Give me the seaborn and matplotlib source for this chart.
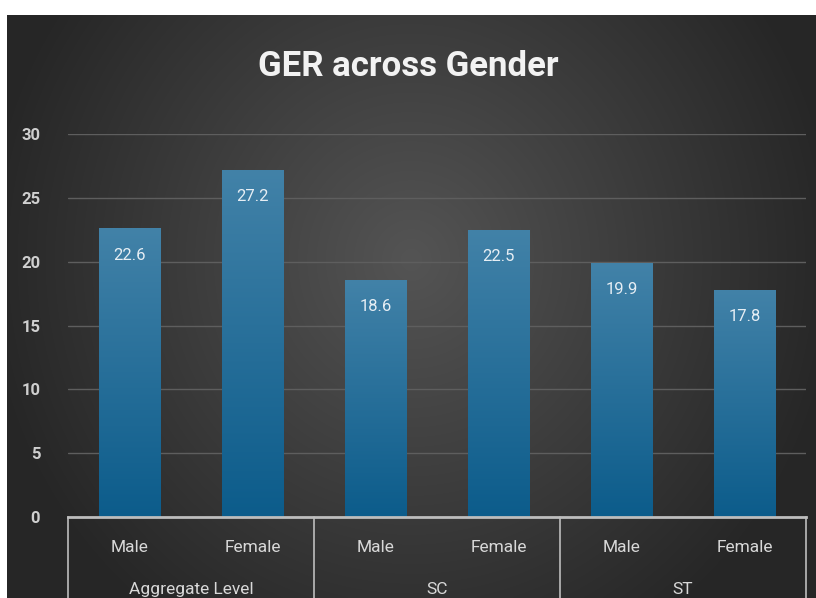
import numpy as np
import pandas as pd
import matplotlib
matplotlib.use("Agg")
import matplotlib.pyplot as plt
from matplotlib.lines import Line2D
import seaborn as sns

# Gross Enrolment Ratio by social group and gender
groups = ["Aggregate Level", "SC", "ST"]
genders = ["Male", "Female"]
ger_values = [22.6, 27.2, 18.6, 22.5, 19.9, 17.8]
y_ticks = [0, 5, 10, 15, 20, 25, 30]

rows = []
i = 0
for g in groups:
    for s in genders:
        rows.append({"key": f"{g}|{s}", "group": g, "gender": s, "ger": ger_values[i]})
        i += 1
df = pd.DataFrame(rows)

sns.set_theme(style="dark")
plt.rcParams["font.family"] = ["Roboto", "DejaVu Sans"]

W, H = 816, 598
fig = plt.figure(figsize=(W / 100, H / 100), dpi=100)
fig.patch.set_facecolor("white")

# dark radial backdrop
bg = fig.add_axes([7 / W, 0, 1 - 7 / W, 1 - 15 / H])
yy, xx = np.mgrid[0:1:300j, 0:1:400j]
r = np.sqrt(((xx - 0.5) / 0.62) ** 2 + ((yy - 0.42) / 0.9) ** 2)
shade = np.clip(0.33 - 0.21 * r, 0.15, 0.33)
bg.imshow(np.dstack([shade, shade, shade]), aspect="auto", extent=[0, 1, 0, 1],
          interpolation="bicubic")
bg.set_axis_off()

ax = fig.add_axes([68 / W, 1 - 517 / H, (806 - 68) / W, (517 - 134) / H])
ax.set_facecolor("none")
sns.barplot(data=df, x="key", y="ger", order=list(df["key"]), width=0.5,
            color="#1a6a96", linewidth=0, ax=ax, zorder=3)

ax.set_ylim(0, 30)
ax.set_xlim(-0.5, len(df) - 0.5)
ax.set_yticks(y_ticks)
ax.set_yticklabels([str(t) for t in y_ticks], color="#cfcfcf", fontsize=12,
                   fontweight="bold")
ax.tick_params(axis="y", length=0, pad=20)
ax.set_xticks([])
ax.set_xlabel("")
ax.set_ylabel("")
for side in ["top", "right", "left"]:
    ax.spines[side].set_visible(False)
ax.spines["bottom"].set_color("#bdbdbd")
ax.spines["bottom"].set_linewidth(2)
ax.spines["bottom"].set_zorder(5)
ax.yaxis.grid(True, color="#5e5e5e", linewidth=1.0, zorder=0)
ax.xaxis.grid(False)

# vertical blue gradient inside each bar
grad = np.linspace(0, 1, 256).reshape(-1, 1)
top_c = np.array([0x42, 0x82, 0xa8]) / 255
bot_c = np.array([0x0c, 0x5c, 0x8b]) / 255
grad_img = top_c * (1 - grad[..., None]) + bot_c * grad[..., None]
for bar in ax.patches:
    x0, y0 = bar.get_x(), bar.get_y()
    w, h = bar.get_width(), bar.get_height()
    im = ax.imshow(grad_img, aspect="auto", extent=[x0, x0 + w, y0, y0 + h],
                   zorder=4, interpolation="bilinear")
    im.set_clip_path(bar)
    ax.text(x0 + w / 2, y0 + h - 2.1, f"{h:.1f}", ha="center", va="center",
            color="#e6eef4", fontsize=12, zorder=6)

ax.set_xlim(-0.5, len(df) - 0.5)
ax.set_ylim(0, 30)

# category table under the axis
xt = ax.get_xaxis_transform()
for xb in [-0.5, 1.5, 3.5, 5.5]:
    ax.add_line(Line2D([xb, xb], [0, -0.3], transform=xt, color="#bdbdbd",
                       linewidth=1.2, clip_on=False))
for idx, row in df.iterrows():
    ax.text(idx, -0.08, row["gender"], transform=xt, ha="center", va="center",
            color="#d8d8d8", fontsize=12.5)
for gi, g in enumerate(groups):
    ax.text(2 * gi + 0.5, -0.19, g, transform=xt, ha="center", va="center",
            color="#d8d8d8", fontsize=12.5)

fig.text(0.5, 1 - 67 / H, "GER across Gender", ha="center", va="center",
         color="#f2f2f2", fontsize=25, fontweight="bold")

fig.savefig("out.png", dpi=100)
